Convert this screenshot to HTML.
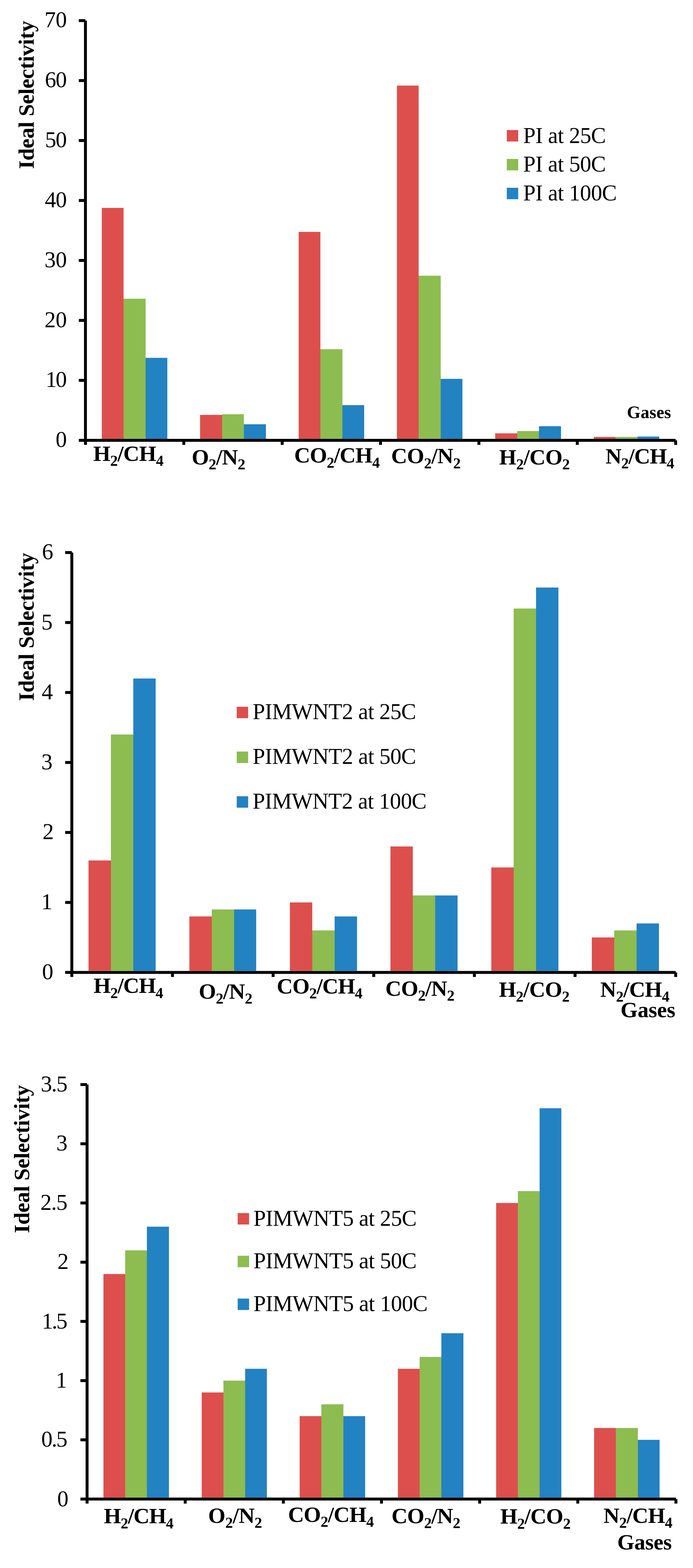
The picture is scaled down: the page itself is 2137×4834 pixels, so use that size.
<!DOCTYPE html>
<html><head><meta charset="utf-8"><title>Ideal Selectivity</title>
<style>html,body{margin:0;padding:0;background:#fff;}svg{display:block;}
text{font-family:"Liberation Serif","Times New Roman",serif;fill:#000;}</style></head>
<body><svg width="2137" height="4834" viewBox="0 0 2137 4834">
<rect x="0" y="0" width="2137" height="4834" fill="#fff"/>
<rect x="259.00" y="63.50" width="9.00" height="1294.00" fill="#000"/>
<rect x="259.00" y="1353.00" width="1824.50" height="9.00" fill="#000"/>
<rect x="243.00" y="59.00" width="20.50" height="9.00" fill="#000"/>
<rect x="243.00" y="243.86" width="20.50" height="9.00" fill="#000"/>
<rect x="243.00" y="428.71" width="20.50" height="9.00" fill="#000"/>
<rect x="243.00" y="613.57" width="20.50" height="9.00" fill="#000"/>
<rect x="243.00" y="798.43" width="20.50" height="9.00" fill="#000"/>
<rect x="243.00" y="983.29" width="20.50" height="9.00" fill="#000"/>
<rect x="243.00" y="1168.14" width="20.50" height="9.00" fill="#000"/>
<rect x="243.00" y="1353.00" width="20.50" height="9.00" fill="#000"/>
<rect x="259.00" y="1357.50" width="9.00" height="14.00" fill="#000"/>
<rect x="562.33" y="1357.50" width="9.00" height="14.00" fill="#000"/>
<rect x="865.67" y="1357.50" width="9.00" height="14.00" fill="#000"/>
<rect x="1169.00" y="1357.50" width="9.00" height="14.00" fill="#000"/>
<rect x="1472.33" y="1357.50" width="9.00" height="14.00" fill="#000"/>
<rect x="1775.67" y="1357.50" width="9.00" height="14.00" fill="#000"/>
<rect x="2079.00" y="1357.50" width="9.00" height="14.00" fill="#000"/>
<rect x="314.00" y="641.00" width="67.00" height="712.00" fill="#DD4F4D"/>
<rect x="381.00" y="921.00" width="68.00" height="432.00" fill="#8DBC50"/>
<rect x="449.00" y="1103.20" width="67.00" height="249.80" fill="#2382C1"/>
<rect x="617.00" y="1279.10" width="68.00" height="73.90" fill="#DD4F4D"/>
<rect x="685.00" y="1277.00" width="67.00" height="76.00" fill="#8DBC50"/>
<rect x="752.00" y="1308.00" width="68.00" height="45.00" fill="#2382C1"/>
<rect x="921.00" y="714.90" width="67.00" height="638.10" fill="#DD4F4D"/>
<rect x="988.00" y="1076.70" width="68.00" height="276.30" fill="#8DBC50"/>
<rect x="1056.00" y="1249.00" width="67.00" height="104.00" fill="#2382C1"/>
<rect x="1224.00" y="263.85" width="67.00" height="1089.15" fill="#DD4F4D"/>
<rect x="1291.00" y="850.00" width="68.00" height="503.00" fill="#8DBC50"/>
<rect x="1359.00" y="1168.00" width="67.00" height="185.00" fill="#2382C1"/>
<rect x="1527.00" y="1336.00" width="68.00" height="17.00" fill="#DD4F4D"/>
<rect x="1595.00" y="1329.00" width="67.00" height="24.00" fill="#8DBC50"/>
<rect x="1662.00" y="1314.00" width="68.00" height="39.00" fill="#2382C1"/>
<rect x="1831.00" y="1347.00" width="67.00" height="6.00" fill="#DD4F4D"/>
<rect x="1898.00" y="1347.00" width="68.00" height="6.00" fill="#8DBC50"/>
<rect x="1966.00" y="1345.80" width="67.00" height="7.20" fill="#2382C1"/>
<text x="205.94" y="84.15" font-size="69.5" text-anchor="end" letter-spacing="-0.39">70</text>
<text x="204.64" y="269.08" font-size="69.5" text-anchor="end" letter-spacing="-1.69">60</text>
<text x="204.33" y="454.32" font-size="69.5" text-anchor="end" letter-spacing="-2.00">50</text>
<text x="205.02" y="639.17" font-size="69.5" text-anchor="end" letter-spacing="-1.31">40</text>
<text x="206.02" y="824.49" font-size="69.5" text-anchor="end" letter-spacing="-0.31">30</text>
<text x="206.02" y="1009.43" font-size="69.5" text-anchor="end" letter-spacing="-0.31">20</text>
<text x="202.64" y="1193.29" font-size="69.5" text-anchor="end" letter-spacing="-3.69">10</text>
<text x="206.33" y="1378.46" font-size="69.5" text-anchor="end">0</text>
<text transform="translate(103.57,521.05) rotate(-90)" font-size="68.4" font-weight="bold" letter-spacing="-0.52">Ideal Selectivity</text>
<rect x="1562.80" y="401.00" width="35.20" height="35.20" fill="#DD4F4D"/>
<text x="1613.25" y="440.78" font-size="69.0" letter-spacing="-0.67">PI at 25C</text>
<rect x="1562.80" y="490.00" width="35.20" height="35.20" fill="#8DBC50"/>
<text x="1613.25" y="529.20" font-size="69.0" letter-spacing="-0.67">PI at 50C</text>
<rect x="1562.80" y="578.90" width="35.20" height="35.20" fill="#2382C1"/>
<text x="1613.25" y="618.12" font-size="69.0" letter-spacing="-0.69">PI at 100C</text>
<text x="287.61" y="1420.69" font-weight="bold" letter-spacing="-1.00"><tspan font-size="68.4" dy="-0.0">H</tspan><tspan font-size="47.0" dy="15.6">2</tspan><tspan font-size="68.4" dy="-15.6">/CH</tspan><tspan font-size="47.0" dy="15.6">4</tspan></text>
<text x="591.24" y="1431.50" font-weight="bold" letter-spacing="-0.83"><tspan font-size="68.4" dy="-0.0">O</tspan><tspan font-size="47.0" dy="15.6">2</tspan><tspan font-size="68.4" dy="-15.6">/N</tspan><tspan font-size="47.0" dy="15.6">2</tspan></text>
<text x="907.24" y="1426.10" font-weight="bold" letter-spacing="-1.21"><tspan font-size="68.4" dy="-0.0">CO</tspan><tspan font-size="47.0" dy="15.6">2</tspan><tspan font-size="68.4" dy="-15.6">/CH</tspan><tspan font-size="47.0" dy="15.6">4</tspan></text>
<text x="1206.26" y="1428.41" font-weight="bold" letter-spacing="-0.68"><tspan font-size="68.4" dy="-0.0">CO</tspan><tspan font-size="47.0" dy="15.6">2</tspan><tspan font-size="68.4" dy="-15.6">/N</tspan><tspan font-size="47.0" dy="15.6">2</tspan></text>
<text x="1539.25" y="1431.65" font-weight="bold" letter-spacing="-0.74"><tspan font-size="68.4" dy="-0.0">H</tspan><tspan font-size="47.0" dy="15.6">2</tspan><tspan font-size="68.4" dy="-15.6">/CO</tspan><tspan font-size="47.0" dy="15.6">2</tspan></text>
<text x="1867.36" y="1428.55" font-weight="bold" letter-spacing="-1.21"><tspan font-size="68.4" dy="-0.0">N</tspan><tspan font-size="47.0" dy="15.6">2</tspan><tspan font-size="68.4" dy="-15.6">/CH</tspan><tspan font-size="47.0" dy="15.6">4</tspan></text>
<text x="1933.36" y="1289.00" font-size="54" font-weight="bold" letter-spacing="0.25">Gases</text>
<rect x="217.00" y="1703.40" width="9.00" height="1294.50" fill="#000"/>
<rect x="217.00" y="2993.40" width="1866.60" height="9.00" fill="#000"/>
<rect x="201.00" y="1698.90" width="20.50" height="9.00" fill="#000"/>
<rect x="201.00" y="1914.65" width="20.50" height="9.00" fill="#000"/>
<rect x="201.00" y="2130.40" width="20.50" height="9.00" fill="#000"/>
<rect x="201.00" y="2346.15" width="20.50" height="9.00" fill="#000"/>
<rect x="201.00" y="2561.90" width="20.50" height="9.00" fill="#000"/>
<rect x="201.00" y="2777.65" width="20.50" height="9.00" fill="#000"/>
<rect x="201.00" y="2993.40" width="20.50" height="9.00" fill="#000"/>
<rect x="217.00" y="2997.90" width="9.00" height="14.00" fill="#000"/>
<rect x="527.35" y="2997.90" width="9.00" height="14.00" fill="#000"/>
<rect x="837.70" y="2997.90" width="9.00" height="14.00" fill="#000"/>
<rect x="1148.05" y="2997.90" width="9.00" height="14.00" fill="#000"/>
<rect x="1458.40" y="2997.90" width="9.00" height="14.00" fill="#000"/>
<rect x="1768.75" y="2997.90" width="9.00" height="14.00" fill="#000"/>
<rect x="2079.10" y="2997.90" width="9.00" height="14.00" fill="#000"/>
<rect x="273.00" y="2652.70" width="69.00" height="340.70" fill="#DD4F4D"/>
<rect x="342.00" y="2264.35" width="69.00" height="729.05" fill="#8DBC50"/>
<rect x="411.00" y="2091.75" width="69.00" height="901.65" fill="#2382C1"/>
<rect x="584.00" y="2825.30" width="69.00" height="168.10" fill="#DD4F4D"/>
<rect x="653.00" y="2803.72" width="69.00" height="189.68" fill="#8DBC50"/>
<rect x="722.00" y="2803.72" width="68.00" height="189.68" fill="#2382C1"/>
<rect x="894.00" y="2782.15" width="69.00" height="211.25" fill="#DD4F4D"/>
<rect x="963.00" y="2868.45" width="69.00" height="124.95" fill="#8DBC50"/>
<rect x="1032.00" y="2825.30" width="69.00" height="168.10" fill="#2382C1"/>
<rect x="1204.00" y="2609.55" width="69.00" height="383.85" fill="#DD4F4D"/>
<rect x="1273.00" y="2760.58" width="69.00" height="232.82" fill="#8DBC50"/>
<rect x="1342.00" y="2760.58" width="69.00" height="232.82" fill="#2382C1"/>
<rect x="1515.00" y="2674.28" width="69.00" height="319.12" fill="#DD4F4D"/>
<rect x="1584.00" y="1876.00" width="69.00" height="1117.40" fill="#8DBC50"/>
<rect x="1653.00" y="1811.28" width="69.00" height="1182.12" fill="#2382C1"/>
<rect x="1825.00" y="2890.03" width="69.00" height="103.38" fill="#DD4F4D"/>
<rect x="1894.00" y="2868.45" width="69.00" height="124.95" fill="#8DBC50"/>
<rect x="1963.00" y="2846.88" width="69.00" height="146.53" fill="#2382C1"/>
<text x="164.14" y="1724.20" font-size="69.5" text-anchor="end">6</text>
<text x="162.29" y="1941.41" font-size="69.5" text-anchor="end">5</text>
<text x="163.14" y="2156.16" font-size="69.5" text-anchor="end">4</text>
<text x="161.98" y="2371.76" font-size="69.5" text-anchor="end">3</text>
<text x="166.06" y="2586.97" font-size="69.5" text-anchor="end">2</text>
<text x="161.76" y="2803.10" font-size="69.5" text-anchor="end">1</text>
<text x="164.45" y="3019.16" font-size="69.5" text-anchor="end">0</text>
<text transform="translate(103.57,2161.05) rotate(-90)" font-size="68.4" font-weight="bold" letter-spacing="-0.53">Ideal Selectivity</text>
<rect x="730.00" y="2179.00" width="35.20" height="35.20" fill="#DD4F4D"/>
<text x="779.07" y="2217.20" font-size="69.0" letter-spacing="-0.72">PIMWNT2 at 25C</text>
<rect x="730.00" y="2317.00" width="35.20" height="35.20" fill="#8DBC50"/>
<text x="779.07" y="2355.30" font-size="69.0" letter-spacing="-0.72">PIMWNT2 at 50C</text>
<rect x="730.00" y="2454.80" width="35.20" height="35.20" fill="#2382C1"/>
<text x="779.07" y="2493.20" font-size="69.0" letter-spacing="-0.83">PIMWNT2 at 100C</text>
<text x="288.41" y="3060.98" font-weight="bold" letter-spacing="-1.37"><tspan font-size="68.4" dy="-0.0">H</tspan><tspan font-size="47.0" dy="15.6">2</tspan><tspan font-size="68.4" dy="-15.6">/CH</tspan><tspan font-size="47.0" dy="15.6">4</tspan></text>
<text x="612.98" y="3078.57" font-weight="bold" letter-spacing="-0.80"><tspan font-size="68.4" dy="-0.0">O</tspan><tspan font-size="47.0" dy="15.6">2</tspan><tspan font-size="68.4" dy="-15.6">/N</tspan><tspan font-size="47.0" dy="15.6">2</tspan></text>
<text x="853.60" y="3062.63" font-weight="bold" letter-spacing="-1.19"><tspan font-size="68.4" dy="-0.0">CO</tspan><tspan font-size="47.0" dy="15.6">2</tspan><tspan font-size="68.4" dy="-15.6">/CH</tspan><tspan font-size="47.0" dy="15.6">4</tspan></text>
<text x="1188.26" y="3069.63" font-weight="bold" letter-spacing="-0.92"><tspan font-size="68.4" dy="-0.0">CO</tspan><tspan font-size="47.0" dy="15.6">2</tspan><tspan font-size="68.4" dy="-15.6">/N</tspan><tspan font-size="47.0" dy="15.6">2</tspan></text>
<text x="1538.51" y="3072.56" font-weight="bold" letter-spacing="-0.78"><tspan font-size="68.4" dy="-0.0">H</tspan><tspan font-size="47.0" dy="15.6">2</tspan><tspan font-size="68.4" dy="-15.6">/CO</tspan><tspan font-size="47.0" dy="15.6">2</tspan></text>
<text x="1851.12" y="3072.55" font-weight="bold" letter-spacing="-0.95"><tspan font-size="68.4" dy="-0.0">N</tspan><tspan font-size="47.0" dy="15.6">2</tspan><tspan font-size="68.4" dy="-15.6">/CH</tspan><tspan font-size="47.0" dy="15.6">4</tspan></text>
<text x="1913.62" y="3136.42" font-size="68" font-weight="bold" letter-spacing="-0.24">Gases</text>
<rect x="264.00" y="3343.60" width="9.00" height="1277.80" fill="#000"/>
<rect x="264.00" y="4616.90" width="1820.40" height="9.00" fill="#000"/>
<rect x="248.00" y="3339.10" width="20.50" height="9.00" fill="#000"/>
<rect x="248.00" y="3521.64" width="20.50" height="9.00" fill="#000"/>
<rect x="248.00" y="3704.19" width="20.50" height="9.00" fill="#000"/>
<rect x="248.00" y="3886.73" width="20.50" height="9.00" fill="#000"/>
<rect x="248.00" y="4069.27" width="20.50" height="9.00" fill="#000"/>
<rect x="248.00" y="4251.81" width="20.50" height="9.00" fill="#000"/>
<rect x="248.00" y="4434.36" width="20.50" height="9.00" fill="#000"/>
<rect x="248.00" y="4616.90" width="20.50" height="9.00" fill="#000"/>
<rect x="264.00" y="4621.40" width="9.00" height="14.00" fill="#000"/>
<rect x="566.65" y="4621.40" width="9.00" height="14.00" fill="#000"/>
<rect x="869.30" y="4621.40" width="9.00" height="14.00" fill="#000"/>
<rect x="1171.95" y="4621.40" width="9.00" height="14.00" fill="#000"/>
<rect x="1474.60" y="4621.40" width="9.00" height="14.00" fill="#000"/>
<rect x="1777.25" y="4621.40" width="9.00" height="14.00" fill="#000"/>
<rect x="2079.90" y="4621.40" width="9.00" height="14.00" fill="#000"/>
<rect x="319.00" y="3927.74" width="67.00" height="689.16" fill="#DD4F4D"/>
<rect x="386.00" y="3854.72" width="67.00" height="762.18" fill="#8DBC50"/>
<rect x="453.00" y="3781.70" width="68.00" height="835.20" fill="#2382C1"/>
<rect x="622.00" y="4292.82" width="67.00" height="324.08" fill="#DD4F4D"/>
<rect x="689.00" y="4256.31" width="67.00" height="360.59" fill="#8DBC50"/>
<rect x="756.00" y="4219.81" width="67.00" height="397.09" fill="#2382C1"/>
<rect x="924.00" y="4365.84" width="67.00" height="251.06" fill="#DD4F4D"/>
<rect x="991.00" y="4329.33" width="68.00" height="287.57" fill="#8DBC50"/>
<rect x="1059.00" y="4365.84" width="67.00" height="251.06" fill="#2382C1"/>
<rect x="1227.00" y="4219.81" width="67.00" height="397.09" fill="#DD4F4D"/>
<rect x="1294.00" y="4183.30" width="67.00" height="433.60" fill="#8DBC50"/>
<rect x="1361.00" y="4110.28" width="68.00" height="506.62" fill="#2382C1"/>
<rect x="1530.00" y="3708.69" width="67.00" height="908.21" fill="#DD4F4D"/>
<rect x="1597.00" y="3672.18" width="67.00" height="944.72" fill="#8DBC50"/>
<rect x="1664.00" y="3416.62" width="67.00" height="1200.28" fill="#2382C1"/>
<rect x="1832.00" y="4402.35" width="67.00" height="214.55" fill="#DD4F4D"/>
<rect x="1899.00" y="4402.35" width="68.00" height="214.55" fill="#8DBC50"/>
<rect x="1967.00" y="4438.86" width="67.00" height="178.04" fill="#2382C1"/>
<text x="206.42" y="3365.40" font-size="69.5" text-anchor="end" letter-spacing="-2.08">3.5</text>
<text x="208.26" y="3547.40" font-size="69.5" text-anchor="end">3</text>
<text x="206.79" y="3730.18" font-size="69.5" text-anchor="end" letter-spacing="-1.54">2.5</text>
<text x="211.64" y="3912.41" font-size="69.5" text-anchor="end">2</text>
<text x="204.68" y="4096.42" font-size="69.5" text-anchor="end" letter-spacing="-3.65">1.5</text>
<text x="206.64" y="4277.58" font-size="69.5" text-anchor="end">1</text>
<text x="205.49" y="4460.35" font-size="69.5" text-anchor="end" letter-spacing="-2.85">0.5</text>
<text x="211.26" y="4644.20" font-size="69.5" text-anchor="end">0</text>
<text transform="translate(90.35,3801.84) rotate(-90)" font-size="68.4" font-weight="bold" letter-spacing="-0.53">Ideal Selectivity</text>
<rect x="732.90" y="3739.80" width="35.20" height="35.20" fill="#DD4F4D"/>
<text x="781.43" y="3779.30" font-size="69.0" letter-spacing="-0.78">PIMWNT5 at 25C</text>
<rect x="732.90" y="3871.40" width="35.20" height="35.20" fill="#8DBC50"/>
<text x="781.43" y="3909.78" font-size="69.0" letter-spacing="-0.78">PIMWNT5 at 50C</text>
<rect x="732.90" y="4003.40" width="35.20" height="35.20" fill="#2382C1"/>
<text x="781.43" y="4042.30" font-size="69.0" letter-spacing="-0.76">PIMWNT5 at 100C</text>
<text x="320.23" y="4695.91" font-weight="bold" letter-spacing="-1.38"><tspan font-size="68.4" dy="-0.0">H</tspan><tspan font-size="47.0" dy="15.6">2</tspan><tspan font-size="68.4" dy="-15.6">/CH</tspan><tspan font-size="47.0" dy="15.6">4</tspan></text>
<text x="642.08" y="4694.54" font-weight="bold" letter-spacing="-0.60"><tspan font-size="68.4" dy="-0.0">O</tspan><tspan font-size="47.0" dy="15.6">2</tspan><tspan font-size="68.4" dy="-15.6">/N</tspan><tspan font-size="47.0" dy="15.6">2</tspan></text>
<text x="888.26" y="4691.77" font-weight="bold" letter-spacing="-1.08"><tspan font-size="68.4" dy="-0.0">CO</tspan><tspan font-size="47.0" dy="15.6">2</tspan><tspan font-size="68.4" dy="-15.6">/CH</tspan><tspan font-size="47.0" dy="15.6">4</tspan></text>
<text x="1207.32" y="4695.53" font-weight="bold" letter-spacing="-1.14"><tspan font-size="68.4" dy="-0.0">CO</tspan><tspan font-size="47.0" dy="15.6">2</tspan><tspan font-size="68.4" dy="-15.6">/N</tspan><tspan font-size="47.0" dy="15.6">2</tspan></text>
<text x="1542.83" y="4697.42" font-weight="bold" letter-spacing="-0.99"><tspan font-size="68.4" dy="-0.0">H</tspan><tspan font-size="47.0" dy="15.6">2</tspan><tspan font-size="68.4" dy="-15.6">/CO</tspan><tspan font-size="47.0" dy="15.6">2</tspan></text>
<text x="1861.12" y="4694.60" font-weight="bold" letter-spacing="-1.07"><tspan font-size="68.4" dy="-0.0">N</tspan><tspan font-size="47.0" dy="15.6">2</tspan><tspan font-size="68.4" dy="-15.6">/CH</tspan><tspan font-size="47.0" dy="15.6">4</tspan></text>
<text x="1903.44" y="4776.68" font-size="68" font-weight="bold" letter-spacing="-0.41">Gases</text>
</svg></body></html>
